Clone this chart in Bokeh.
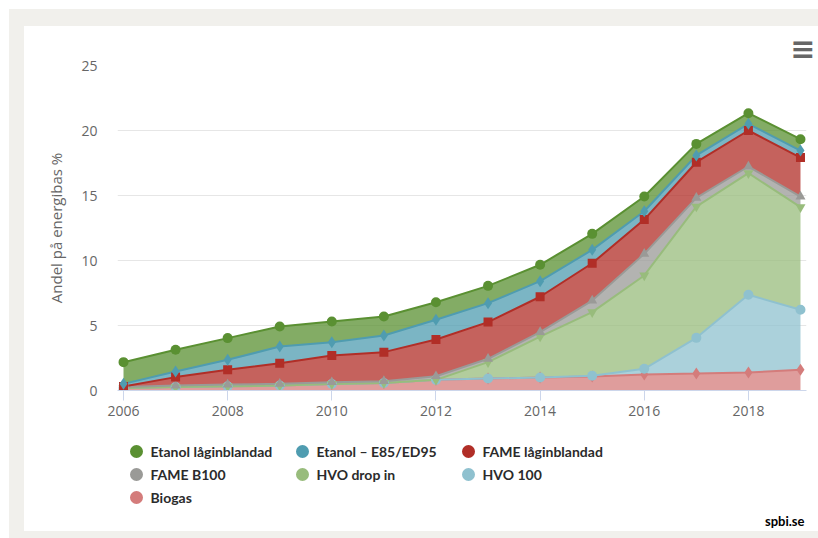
import numpy as np
from bokeh.plotting import figure
from bokeh.models import Range1d, FixedTicker, Title, ColumnDataSource
from bokeh.layouts import column
from bokeh.core.properties import value
from bokeh.embed import file_html
from bokeh.resources import INLINE

# ---------------- data ----------------
years = list(range(2006, 2020))
x_ticks = [2006, 2008, 2010, 2012, 2014, 2016, 2018]
y_ticks = [0, 5, 10, 15, 20, 25]
y_title = "Andel på energibas %"

names = ["Etanol låginblandad", "Etanol – E85/ED95", "FAME låginblandad",
         "FAME B100", "HVO drop in", "HVO 100", "Biogas"]
colors = ["#5a9032", "#4f9cb0", "#b12e27", "#9a9a97", "#98bc7c", "#8fc1cf", "#d47c7b"]
markers = ["circle", "diamond", "square", "triangle", "inverted_triangle", "circle", "diamond"]

etanol_lag = [1.67, 1.67, 1.67, 1.54, 1.59, 1.46, 1.35, 1.33, 1.26, 1.23, 1.13, 0.89, 0.82, 0.87]
etanol_e85 = [0.21, 0.43, 0.77, 1.28, 1.03, 1.28, 1.52, 1.46, 1.20, 1.03, 0.64, 0.52, 0.51, 0.54]
fame_lag   = [0.04, 0.65, 1.13, 1.59, 2.05, 2.23, 2.82, 2.82, 2.72, 2.87, 2.64, 2.74, 2.77, 3.00]
fame_b100  = [0.06, 0.12, 0.14, 0.13, 0.14, 0.14, 0.28, 0.26, 0.34, 0.89, 1.66, 0.67, 0.51, 0.82]
hvo_drop   = [0, 0, 0, 0, 0, 0, 0, 1.26, 3.15, 4.90, 7.18, 10.10, 9.36, 7.89]
hvo_100    = [0, 0, 0, 0, 0, 0, 0, 0, 0, 0.05, 0.43, 2.75, 5.98, 4.61]
biogas     = [0.20, 0.26, 0.32, 0.38, 0.50, 0.58, 0.82, 0.92, 1.00, 1.08, 1.24, 1.30, 1.38, 1.60]

series = [etanol_lag, etanol_e85, fame_lag, fame_b100, hvo_drop, hvo_100, biogas]
source_note = "spbi.se"
menu_icon = "≡"

# ---------------- main chart ----------------
W = 794
BL, BR, BT, BB = 93, 12, 39, 40
p = figure(width=W, height=404, output_backend="svg", toolbar_location=None,
           x_range=Range1d(2006 - 6 / 52, 2019 + 6 / 52), y_range=Range1d(0, 25),
           min_border_left=BL, min_border_right=BR, min_border_top=BT, min_border_bottom=BB)
p.outline_line_color = None
p.background_fill_color = "white"
p.border_fill_color = "white"

# stacking: last series at the bottom
n = len(series)
bottom = np.zeros(len(years))
lowers, uppers = [None] * n, [None] * n
for i in range(n - 1, -1, -1):
    top = bottom + np.array(series[i], dtype=float)
    lowers[i], uppers[i] = bottom.copy(), top.copy()
    bottom = top

for i in range(n - 1, -1, -1):
    p.varea(x=years, y1=lowers[i], y2=uppers[i], fill_color=colors[i], fill_alpha=0.75)
for i in range(n - 1, -1, -1):
    p.line(x=years, y=uppers[i], line_color=colors[i], line_width=2)
for i in range(n - 1, -1, -1):
    sz = {"circle": 10, "square": 9, "diamond": 12, "triangle": 10, "inverted_triangle": 10}[markers[i]]
    p.scatter(x=years, y=uppers[i], marker=markers[i], size=sz,
              fill_color=colors[i], line_color=colors[i], line_width=0)

p.xgrid.visible = False
p.ygrid.grid_line_color = "#e6e6e6"
p.ygrid.grid_line_width = 1

xa = p.xaxis[0]
xa.ticker = FixedTicker(ticks=x_ticks)
xa.minor_tick_line_color = None
xa.axis_line_color = "#ccd6eb"
xa.major_tick_line_color = "#ccd6eb"
xa.major_tick_in = 0
xa.major_tick_out = 10
xa.major_label_standoff = 5
xa.major_label_text_font = "Open Sans"
xa.major_label_text_font_size = "14px"
xa.major_label_text_color = "#666666"

ya = p.yaxis[0]
ya.ticker = FixedTicker(ticks=y_ticks)
ya.minor_tick_line_color = None
ya.axis_line_color = None
ya.major_tick_line_color = None
ya.major_tick_in = 0
ya.major_tick_out = 0
ya.major_label_standoff = 20
ya.major_label_text_font = "Open Sans"
ya.major_label_text_font_size = "14px"
ya.major_label_text_color = "#666666"
ya.axis_label = y_title
ya.axis_label_text_font = "Open Sans"
ya.axis_label_text_font_style = "normal"
ya.axis_label_text_font_size = "15px"
ya.axis_label_text_color = "#666666"
ya.axis_label_standoff = 12

# menu (hamburger) icon, as a right-aligned title above the frame
p.add_layout(Title(text=menu_icon, align="right", offset=-9, standoff=0,
                   text_font="DejaVu Sans", text_font_style="bold",
                   text_font_size="30px", text_color="#666666"), "above")

# ---------------- legend panel ----------------
LH = 101
lg = figure(width=W, height=LH, output_backend="svg", toolbar_location=None,
            x_range=Range1d(BL, W - BR), y_range=Range1d(LH, 0),
            min_border_left=BL, min_border_right=BR, min_border_top=0, min_border_bottom=0)
lg.axis.visible = False
lg.grid.visible = False
lg.outline_line_color = None
lg.border_fill_color = "white"
lg.background_fill_color = "white"

col_x = [112 + 166 * (i % 3) for i in range(n)]
row_y = [21 + 23 * (i // 3) for i in range(n)]
lsrc = ColumnDataSource(dict(x=col_x, tx=[c + 14 for c in col_x], y=row_y,
                             name=names, color=colors))
lg.scatter(x="x", y="y", size=13, marker="circle", fill_color="color",
           line_color=None, source=lsrc)
lg.text(x="tx", y="y", text="name", source=lsrc, text_font=value("Lato"),
        text_font_style="bold", text_font_size="14px", text_color="#2b2b2b",
        text_baseline="middle", text_align="left")
lg.text(x=[780], y=[90], text=[source_note], text_font=value("Lato"),
        text_font_style="bold", text_font_size="13px", text_color="#000000",
        text_baseline="middle", text_align="right")

inner = column(p, lg, spacing=0, styles={"background-color": "white"})
layout = column(inner, styles={"background-color": "#f1f0ec", "padding": "17px 0px 7px 15px",
                               "margin": "9px 0px 0px 9px"})

open("out.html", "w").write(file_html(layout, INLINE))
